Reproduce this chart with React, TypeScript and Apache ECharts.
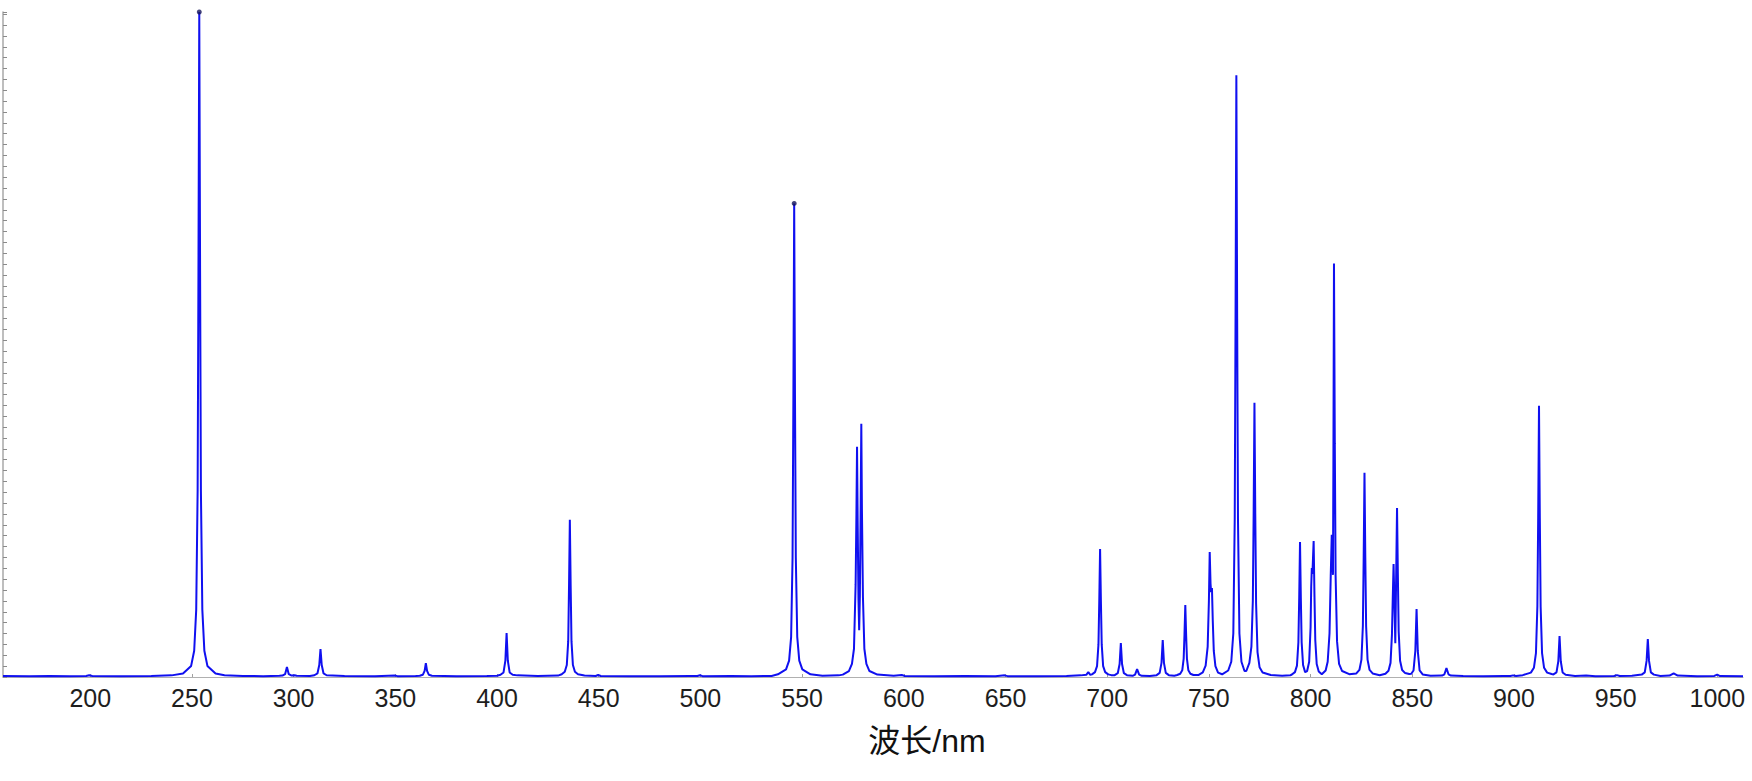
import React, { useEffect, useRef } from "react";
import * as echarts from "echarts";

// Spectrum samples: [wavelength nm, intensity counts]
const hgUV: [number, number][] = [
  [157.1, 90], [170, 70], [180, 100], [190, 80], [198, 90], [199.5, 160], [201, 90], [215, 70], [230, 90], [240, 150],
  [245.6, 320], [249.6, 1020], [251.1, 2410], [252.1, 6200], [252.8, 17220], [253.2, 37410], [253.6, 61200],
  [254.0, 37410], [254.4, 17220], [255.1, 6200], [256.1, 2410], [257.6, 1020], [261.6, 320],
  [266, 160], [275, 90], [285, 80], [293, 110],
  [294.5, 130], [295.8, 260], [296.7, 910], [297.6, 260], [299, 130], [300.5, 160], [301.5, 110], [308, 90],
  [310.2, 160], [311.7, 330], [312.6, 1100], [313.2, 2570], [313.8, 1100], [314.7, 330], [316.2, 160],
  [325, 90], [340, 80], [349.8, 130], [351, 80], [360, 90],
  [362, 120], [363.5, 200], [364.4, 570], [365.0, 1280], [365.6, 570], [366.5, 200], [368, 120],
  [380, 80], [395, 90], [400, 110],
  [401.7, 200], [403.2, 420], [404.1, 1500], [404.7, 4040], [405.3, 1500], [406.2, 420], [407.7, 200], [410, 150],
  [420, 90], [430, 130],
  [431.8, 250], [433.3, 480], [434.3, 1100], [435.0, 3300], [435.4, 8400], [435.8, 14460], [436.2, 8400],
  [436.6, 3300], [437.3, 1100], [438.3, 480], [439.8, 250], [443, 130],
  [448.5, 90], [449.7, 180], [451, 90], [465, 80],
];

const hgVisible: [number, number][] = [
  [480, 80], [495, 100], [498.5, 90], [499.8, 160], [501, 80], [515, 90], [525, 80], [535, 100],
  [538.1, 250], [542.1, 700], [543.6, 1500], [544.6, 3700], [545.3, 11000], [545.7, 25500], [546.1, 43580],
  [546.5, 25500], [546.9, 11000], [547.6, 3700], [548.6, 1500], [550.1, 700], [554.1, 250],
  [560, 110], [568, 150],
  [570, 220], [573, 550], [574.5, 1200], [575.5, 2600], [576.3, 8500], [576.7, 15000], [577.0, 21190],
  [577.3, 14500], [577.7, 7200], [578.05, 4300], [578.4, 7500], [578.8, 16000], [579.1, 23310], [579.4, 15500],
  [579.9, 7400], [580.6, 2600], [581.6, 1200], [583.1, 550], [587, 220],
  [595, 110], [599, 180], [600.5, 100], [615, 80], [630, 90], [645, 80], [649.6, 150], [651, 80], [665, 80], [680, 100],
];

const arNIR: [number, number][] = [
  [687, 150], [689.7, 200], [690.7, 450], [691.7, 200],
  [692.5, 240], [694.0, 450], [695.0, 1000], [695.7, 3000], [696.1, 7000], [696.5, 11780], [696.9, 7000],
  [697.3, 3000], [698.0, 1000], [699.0, 450], [700.5, 240], [702, 170],
  [703.7, 170], [705.2, 350], [706.1, 1200], [706.7, 3120], [707.3, 1200], [708.2, 350], [709.7, 170],
  [712.5, 110], [713.7, 220], [714.7, 730], [715.7, 220], [717, 110], [721, 90],
  [724.3, 170], [725.8, 380], [726.7, 1300], [727.3, 3400], [727.9, 1300], [728.8, 380], [730.3, 170], [733, 120],
  [734.4, 180], [735.9, 300], [736.9, 620], [737.6, 1700], [738.0, 3900], [738.4, 6620], [738.8, 3900],
  [739.2, 1700], [739.9, 620], [740.9, 300], [742.4, 180],
  [745, 190], [747, 420], [748.4, 1050], [749.4, 2800], [750.0, 7000], [750.4, 11510], [750.8, 8600],
  [751.1, 7800], [751.5, 8190], [751.9, 5200], [752.4, 2400], [753.2, 1000], [754.5, 400],
  [756.5, 250], [759.5, 600], [761.0, 1400], [762.0, 4000], [762.7, 14500], [763.1, 33000], [763.5, 55380],
  [763.9, 33000], [764.3, 14500], [765.0, 4000], [766.0, 1400], [767.5, 550],
  [768.4, 550], [769.9, 1300], [770.9, 2800], [771.6, 7000], [772.0, 15000], [772.4, 25240], [772.8, 15000],
  [773.2, 6800], [773.9, 2300], [774.9, 900], [776.4, 420], [780.4, 180], [786, 110], [790, 150],
  [790.8, 230], [792.3, 450], [793.3, 1050], [794.0, 3200], [794.4, 7300], [794.8, 12430], [795.2, 7300],
  [795.6, 3200], [796.3, 1100], [797.3, 450],
  [798.3, 550], [799.3, 1400], [800.0, 4600], [800.3, 8300], [800.6, 10030], [800.9, 9500], [801.2, 11000],
  [801.5, 12520], [801.9, 7500], [802.3, 3400], [803.0, 1200], [804.0, 500], [805.5, 260],
  [807.4, 600], [808.4, 1400], [809.3, 4000], [809.9, 9300], [810.4, 13080], [810.8, 10500], [811.0, 9400],
  [811.2, 19000], [811.5, 38050], [811.9, 21500], [812.3, 9300], [813.0, 3300], [814.0, 1200], [815.5, 550], [819, 260],
  [822.5, 330], [824.0, 650], [825.0, 1600], [825.7, 4700], [826.1, 11000], [826.5, 18790], [826.9, 11000],
  [827.3, 4700], [828.0, 1600], [829.0, 650], [830.5, 330], [834, 160],
  [836.8, 300], [838.3, 580], [839.3, 1300], [840.0, 3900], [840.4, 7300], [840.8, 10400], [841.2, 7000],
  [841.65, 3100], [842.1, 9700], [842.5, 15560], [842.9, 9500], [843.3, 4200], [844.0, 1500], [845.0, 650],
  [846.5, 360], [848.5, 270],
  [849.5, 300], [850.6, 600], [851.5, 2400], [852.1, 6260], [852.7, 2400], [853.6, 600], [855.1, 240], [859, 120],
  [864.6, 130], [865.8, 250], [866.8, 820], [867.8, 250], [869, 130],
  [875, 90], [885, 80], [895, 100], [898.2, 90], [899.6, 150], [901, 90], [904.3, 170],
  [908.3, 400], [909.8, 850], [910.8, 2200], [911.5, 6500], [911.9, 14700], [912.3, 24970], [912.7, 14700],
  [913.1, 6500], [913.8, 2200], [914.8, 850], [916.3, 400], [918.5, 270],
  [919.4, 240], [920.9, 420], [921.8, 1450], [922.4, 3770], [923.0, 1450], [923.9, 420], [925.4, 200],
  [930, 100], [935.5, 130], [940, 80], [949.2, 90], [950.6, 170], [952, 90], [958, 120],
  [962.8, 220], [964.3, 420], [965.2, 1480], [965.8, 3490], [966.4, 1480], [967.3, 420], [968.8, 220],
  [972, 100], [976.5, 130], [978.5, 330], [980.5, 130], [990, 80], [998.5, 100], [999.9, 220], [1001.3, 90],
  [1012.6, 80],
];

// Marked maxima (dark dots at the top of the two strongest Hg lines)
const markedPeaks: [number, number][] = [
  [253.6, 61200],
  [546.1, 43580],
];

const xMin = 157.1;
const xMax = 1012.6;
const yMax = 61200;
const xName = "波长/nm";

export default function App() {
  const ref = useRef<HTMLDivElement>(null);
  useEffect(() => {
    if (!ref.current) return;
    const chart = echarts.init(ref.current, undefined, { renderer: "svg" });
    const spectrum = [...hgUV, ...hgVisible, ...arNIR];
    chart.setOption({
      animation: false,
      backgroundColor: "#ffffff",
      grid: { left: 3, right: 9, top: 12, bottom: 104, containLabel: false },
      xAxis: {
        type: "value",
        min: xMin,
        max: xMax,
        splitNumber: 17,
        minInterval: 50,
        maxInterval: 50,
        splitLine: { show: false },
        axisLine: { show: true, lineStyle: { color: "#b0b0b0", width: 1 } },
        axisTick: { show: true, inside: true, length: 3, lineStyle: { color: "#a0a0a0" } },
        axisLabel: {
          show: true,
          margin: 8,
          fontSize: 25,
          color: "#1e1e1e",
          fontFamily: "Liberation Sans, Arial, sans-serif",
          showMinLabel: false,
          showMaxLabel: false,
          formatter: (v: number) => String(v),
        },
      },
      yAxis: {
        type: "value",
        min: 0,
        max: yMax,
        interval: 1000,
        splitLine: { show: false },
        axisLine: { show: true, lineStyle: { color: "#a8a8a8", width: 1.5 } },
        axisTick: { show: true, inside: true, length: 4, lineStyle: { color: "#8a8a8a" } },
        axisLabel: { show: false },
      },
      graphic: [
        {
          type: "text",
          x: 927,
          y: 741,
          style: {
            text: xName,
            fontSize: 32,
            fill: "#111111",
            fontFamily: "Liberation Sans, Noto Sans CJK SC, sans-serif",
            textAlign: "center",
            textVerticalAlign: "middle",
          },
        },
      ],
      series: [
        {
          type: "line",
          data: spectrum,
          showSymbol: false,
          symbol: "none",
          lineStyle: { color: "#1010f0", width: 2 },
          z: 2,
        },
        {
          type: "scatter",
          data: markedPeaks,
          symbol: "circle",
          symbolSize: 5,
          itemStyle: { color: "#14145a" },
          z: 3,
        },
      ],
    });
    return () => chart.dispose();
  }, []);
  return (
    <div
      ref={ref}
      style={{ position: "fixed", left: 0, top: 0, width: 1752, height: 781 }}
    />
  );
}
